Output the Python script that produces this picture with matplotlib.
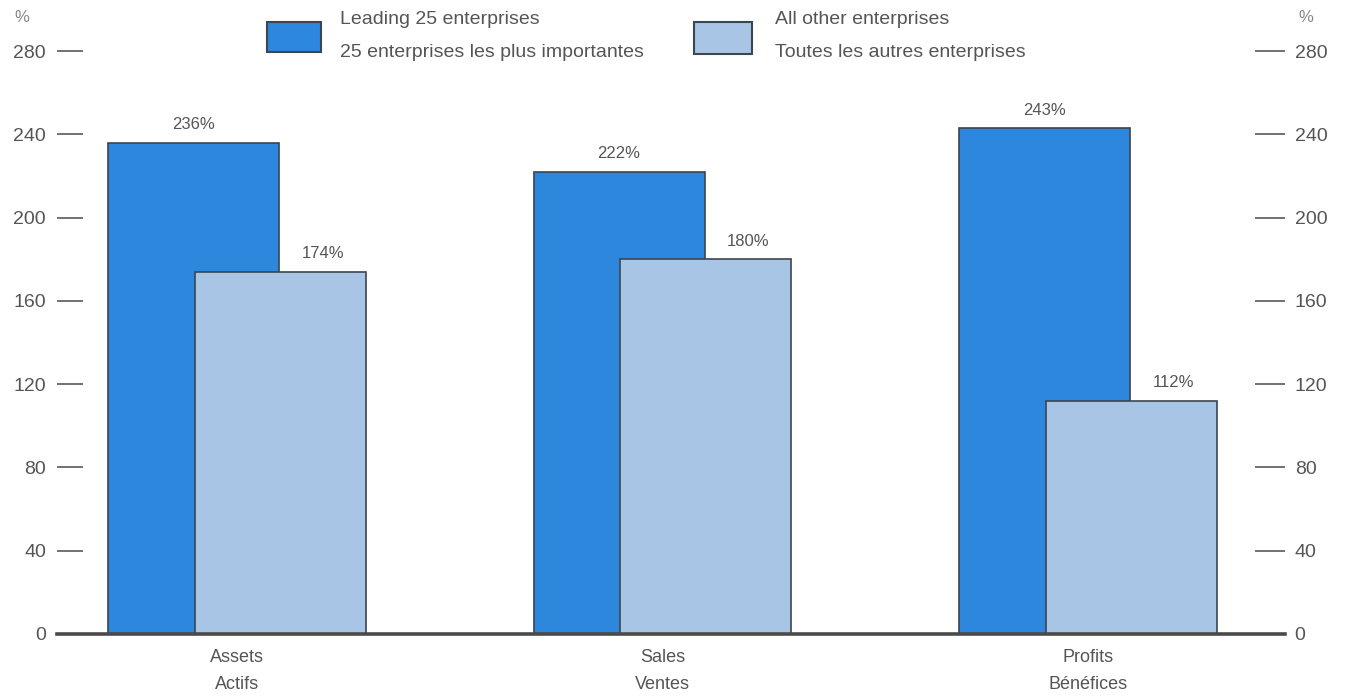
import matplotlib
matplotlib.use("Agg")
import matplotlib.pyplot as plt
from matplotlib.patches import Rectangle
import numpy as np

# data
categories = ["Assets\nActifs", "Sales\nVentes", "Profits\nBénéfices"]
leading = [236, 222, 243]
others = [174, 180, 112]
leading_label = "Leading 25 enterprises\n25 enterprises les plus importantes"
others_label = "All other enterprises\nToutes les autres enterprises"
yticks = [0, 40, 80, 120, 160, 200, 240, 280]

dark = "#2d87dc"
light = "#a8c5e6"
edge = "#3b4650"
grey = "#555555"

plt.rcParams["font.family"] = ["Liberation Sans", "DejaVu Sans"]

fig = plt.figure(figsize=(13.48, 6.97), dpi=100)
ax = fig.add_axes([57 / 1348, 1 - 634 / 697, (1285 - 57) / 1348, (634 - 51) / 697])

x = np.arange(len(categories))
w = 0.402
off = 0.102
ax.bar(x - off, leading, w, color=dark, edgecolor=edge, linewidth=1.2, zorder=2)
ax.bar(x + off, others, w, color=light, edgecolor=edge, linewidth=1.2, zorder=3)

# value labels (the light ones sit to the right of the bar middle)
for xi, v in zip(x, leading):
    ax.text(xi - off, v + 5, f"{v}%", ha="center", va="bottom", fontsize=12, color=grey)
for xi, v in zip(x, others):
    ax.text(xi + off + 0.1, v + 5, f"{v}%", ha="center", va="bottom", fontsize=12, color=grey)

ax.set_xlim(-0.423, 2.463)
ax.set_ylim(0, 280)
ax.set_xticks(x)
ax.set_xticklabels(categories, fontsize=13, color=grey, linespacing=1.75)
ax.tick_params(axis="x", length=0, pad=11)

for s in ["top", "right"]:
    ax.spines[s].set_visible(False)
ax.spines["bottom"].set_color("#4a4a4a")
ax.spines["bottom"].set_linewidth(2.6)
ax.spines["bottom"].set_zorder(4)
ax.spines["left"].set_color("none")

ax.set_yticks(yticks)
ax.tick_params(axis="y", direction="in", length=19, width=1.3, color="#666666",
               labelsize=14, labelcolor=grey, pad=8)
# no dash at zero
ax.yaxis.get_major_ticks()[0].tick1line.set_visible(False)

ax2 = ax.twinx()
ax2.set_ylim(0, 280)
ax2.set_yticks(yticks)
for s in ["top", "left", "bottom"]:
    ax2.spines[s].set_visible(False)
ax2.spines["right"].set_color("none")
ax2.tick_params(axis="y", direction="in", length=21.5, width=1.3, color="#666666",
                labelsize=14, labelcolor=grey, pad=7)
ax2.yaxis.get_major_ticks()[0].tick2line.set_visible(False)

fig.text(22 / 1348, 1 - 18 / 697, "%", fontsize=12, color="#888888", ha="center", va="center")
fig.text(1306 / 1348, 1 - 18 / 697, "%", fontsize=12, color="#888888", ha="center", va="center")

# legend drawn by hand
fig.add_artist(Rectangle((267 / 1348, 1 - 52 / 697), 54 / 1348, 30 / 697,
                         transform=fig.transFigure, facecolor=dark, edgecolor=edge, linewidth=1.5))
fig.add_artist(Rectangle((694 / 1348, 1 - 54 / 697), 58 / 1348, 32 / 697,
                         transform=fig.transFigure, facecolor=light, edgecolor=edge, linewidth=1.5))
fig.text(340 / 1348, 1 - 36 / 697, leading_label, fontsize=14, color=grey,
         va="center", linespacing=2.25)
fig.text(775 / 1348, 1 - 36 / 697, others_label, fontsize=14, color=grey,
         va="center", linespacing=2.25)

fig.savefig("out.png", dpi=100)
